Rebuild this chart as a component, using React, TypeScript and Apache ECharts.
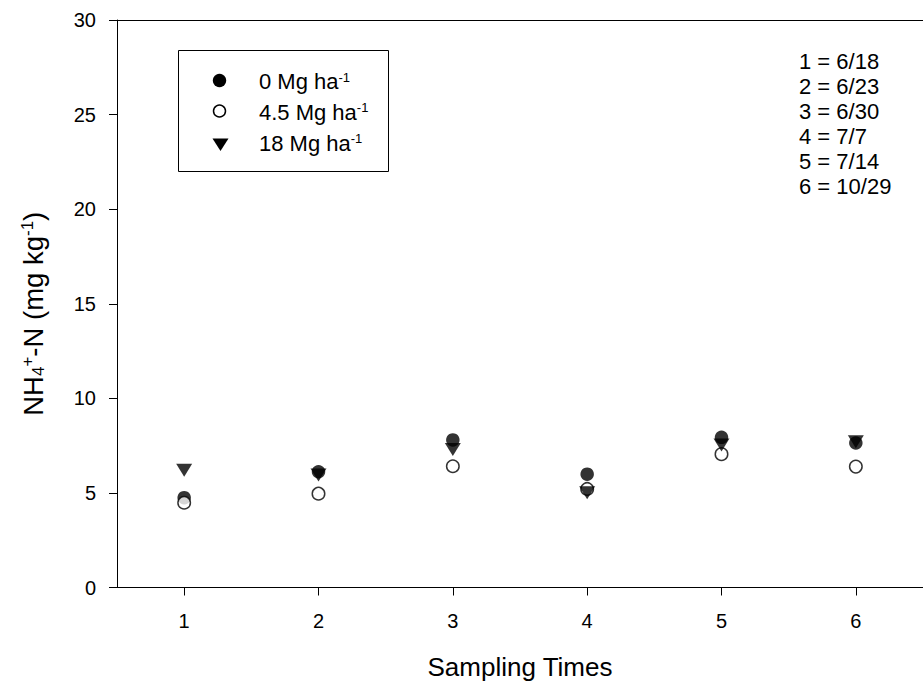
import React, { useEffect, useRef } from "react";
import * as echarts from "echarts";

// Sampling times (x categories)
const categories = ["1", "2", "3", "4", "5", "6"];
// NH4+-N (mg kg-1) per application rate
const rate0 = [4.75, 6.12, 7.8, 5.99, 7.94, 7.64];
const rate45 = [4.48, 4.96, 6.41, 5.21, 7.05, 6.39];
const rate18 = [6.2, 5.95, 7.29, 5.01, 7.53, 7.71];
const seriesNames = ["0 Mg ha-1", "4.5 Mg ha-1", "18 Mg ha-1"];
const legendLabels = ["0 Mg ha", "4.5 Mg ha", "18 Mg ha"];
const dateNotes = ["1 = 6/18", "2 = 6/23", "3 = 6/30", "4 = 7/7", "5 = 7/14", "6 = 10/29"];
const yMin = 0;
const yMax = 30;
const yStep = 5;

const FONT = "'Liberation Sans', Arial, Helvetica, sans-serif";
const TRI = "path://M0,0L16,0L8,13Z";

export default function App() {
  const ref = useRef<HTMLDivElement>(null);

  useEffect(() => {
    if (!ref.current) return;
    const chart = echarts.init(ref.current, null, { renderer: "svg" });

    const supRich = (size: number, main: number) => ({
      m: { fontSize: main, fontFamily: FONT, color: "#000" },
      sup: { fontSize: size, fontFamily: FONT, color: "#000", verticalAlign: "top", lineHeight: 8 },
      sub: { fontSize: size, fontFamily: FONT, color: "#000", verticalAlign: "bottom", lineHeight: 10 },
    });

    const legendY = [80.5, 111, 142];
    const legendChildren: any[] = [
      {
        type: "rect",
        shape: { x: 178.5, y: 50.5, width: 210, height: 121 },
        style: { fill: "none", stroke: "#000", lineWidth: 1 },
      },
      { type: "circle", shape: { cx: 219.5, cy: legendY[0], r: 6.7 }, style: { fill: "#000" } },
      {
        type: "circle",
        shape: { cx: 219.5, cy: legendY[1], r: 6 },
        style: { fill: "#fff", stroke: "#000", lineWidth: 1.5 },
      },
      {
        type: "polygon",
        shape: { points: [[212.5, 138.5], [228.5, 138.5], [220.5, 151]] },
        style: { fill: "#000" },
      },
    ];
    legendLabels.forEach((lab, i) => {
      legendChildren.push({
        type: "text",
        x: 259,
        y: legendY[i] + 1,
        style: {
          text: `{m|${lab}}{sup|-1}`,
          verticalAlign: "middle",
          align: "left",
          rich: supRich(13, 22),
        },
      });
    });

    chart.setOption({
      animation: false,
      grid: { left: 117, top: 20, right: -7.5, bottom: 100.5, containLabel: false },
      xAxis: [
        {
          type: "category",
          data: categories,
          boundaryGap: true,
          axisLine: { show: true, lineStyle: { color: "#000", width: 1 } },
          axisTick: { show: true, alignWithLabel: true, length: 8, lineStyle: { color: "#000" } },
          axisLabel: { margin: 23, fontSize: 20, color: "#000", fontFamily: FONT },
          splitLine: { show: false },
          name: "Sampling Times",
          nameLocation: "middle",
          nameGap: 66,
          nameTextStyle: { fontSize: 26, color: "#000", fontFamily: FONT },
        },
        {
          type: "category",
          data: categories,
          position: "top",
          boundaryGap: true,
          axisLine: { show: true, lineStyle: { color: "#000", width: 1 } },
          axisTick: { show: false },
          axisLabel: { show: false },
          splitLine: { show: false },
        },
      ],
      yAxis: {
        type: "value",
        min: yMin,
        max: yMax,
        interval: yStep,
        axisLine: { show: true, lineStyle: { color: "#000", width: 1 } },
        axisTick: { show: true, length: 8, lineStyle: { color: "#000" } },
        axisLabel: { margin: 21, fontSize: 20, color: "#000", fontFamily: FONT },
        splitLine: { show: false },
        name: "{m|NH}{sub|4}{sup|+}{m|-N (mg kg}{sup|-1}{m|)}",
        nameLocation: "middle",
        nameGap: 70,
        nameTextStyle: {
          color: "#000",
          fontFamily: FONT,
          fontSize: 27.5,
          padding: [0, 20, 0, 0],
          rich: supRich(17, 27.5),
        },
      },
      series: [
        {
          name: seriesNames[0],
          type: "scatter",
          data: rate0,
          symbol: "circle",
          symbolSize: 13.5,
          itemStyle: { color: "#000" },
          z: 2,
        },
        {
          name: seriesNames[1],
          type: "scatter",
          data: rate45,
          symbol: "circle",
          symbolSize: 12.5,
          itemStyle: { color: "#fff", borderColor: "#000", borderWidth: 1.5 },
          z: 3,
        },
        {
          name: seriesNames[2],
          type: "scatter",
          data: rate18,
          symbol: TRI,
          symbolSize: [16, 13],
          itemStyle: { color: "#000" },
          z: 4,
        },
      ],
      graphic: [
        { type: "group", children: legendChildren },
        {
          type: "text",
          x: 799,
          y: 49,
          style: {
            text: dateNotes.join("\n"),
            fontSize: 22,
            lineHeight: 25,
            fontFamily: FONT,
            fill: "#000",
            verticalAlign: "top",
            align: "left",
          },
        },
      ],
    });

    return () => chart.dispose();
  }, []);

  return (
    <div
      ref={ref}
      style={{ position: "absolute", left: 0, top: 0, width: 923, height: 688, overflow: "hidden", background: "#fff" }}
    />
  );
}
